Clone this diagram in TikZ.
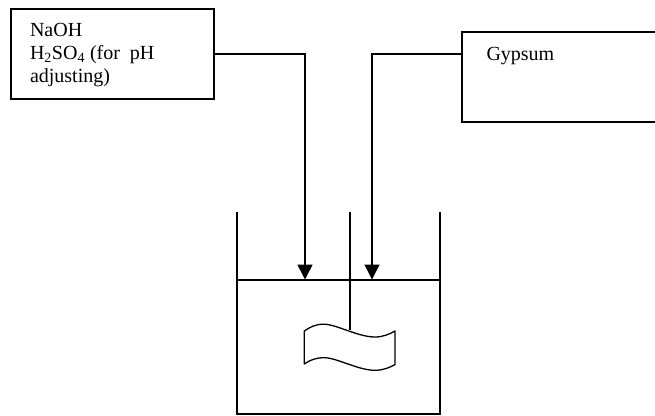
\documentclass[tikz,border=0pt]{standalone}
\usepackage{fontspec}
\setmainfont{Liberation Serif}
\usetikzlibrary{arrows.meta,calc}
\tikzset{
  ln/.style={line width=1.6pt,black},
  thin ln/.style={line width=1.3pt,black},
  flow/.style={ln,-{Triangle[length=15pt,width=15pt]}},
  lbl/.style={inner sep=0pt,outer sep=0pt,anchor=north west,align=left,font=\fontsize{20}{23}\selectfont},
  bx/.style={inner sep=0pt,outer sep=0pt,rectangle}
}
\begin{document}
\begin{tikzpicture}[x=1pt,y=-1pt]
\useasboundingbox (0,0) rectangle (655,415);
% boxes
\node[bx,ln,draw,minimum width=203pt,minimum height=90pt] (acid) at (112.5,54) {};
\node[bx,minimum width=193pt,minimum height=90pt] (gyp) at (558.5,77) {};
\draw[ln] (gyp.north east) -- (gyp.north west) -- (gyp.south west) -- (gyp.south east);
\node[lbl] (acidtxt) at (30,23.5) {NaOH\\H\textsubscript{2}SO\textsubscript{4} (for\ \ pH\\adjusting)};
\node[lbl] (gyptxt) at (486.5,47) {Gypsum};
% tank
\coordinate (tl) at (237,212);
\coordinate (bl) at (237,414);
\coordinate (br) at (440,414);
\coordinate (tr) at (440,212);
\coordinate (wl) at (237,280);
\coordinate (wr) at (440,280);
\draw[ln] (tl) -- (bl) -- (br) -- (tr);
\draw[ln] (wl) -- (wr);
% connectors
\coordinate (tipa) at (305,279.5);
\coordinate (tipb) at (372,279.5);
\coordinate (gypport) at (462,54);
\draw[flow] (acid.east) -| (tipa);
\draw[flow] (gypport) -| (tipb);
% stirrer
\coordinate (shafttop) at (350,212);
\coordinate (shaftend) at (350,330);
\draw[ln] (shafttop) -- (shaftend);
\draw[thin ln,line join=round]
  (304.3,331) .. controls (310,327) and (316,324) .. (324,324.2)
  .. controls (337,324.5) and (358,337) .. (375,337)
  .. controls (383,337) and (390,334) .. (395,331)
  -- (395,364.5)
  .. controls (390,367.5) and (383,370.3) .. (375,370.3)
  .. controls (358,370.3) and (337,357.7) .. (324,357.7)
  .. controls (316,357.7) and (310,360) .. (304.3,364)
  -- cycle;
\end{tikzpicture}
\end{document}
